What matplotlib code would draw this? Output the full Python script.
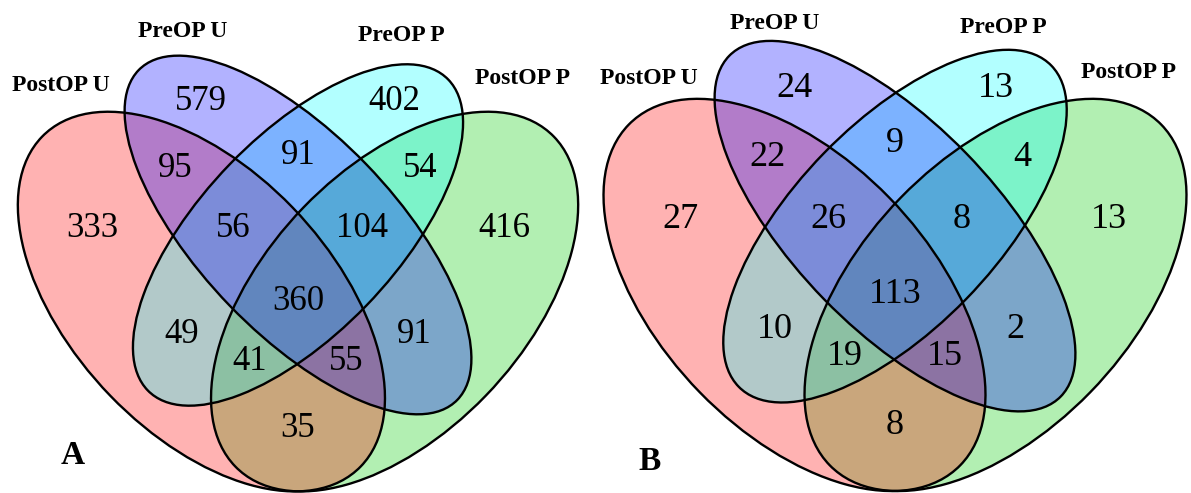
import matplotlib
matplotlib.use("Agg")
import matplotlib.pyplot as plt
from matplotlib.patches import Ellipse

plt.rcParams["font.family"] = ["Liberation Serif", "DejaVu Serif"]

# set names, in fill order (PostOP P first, PreOP U last)
SETS = ["PostOP P", "PostOP U", "PreOP P", "PreOP U"]
FILLS = ["#00CD00", "#FF0000", "#00FFFF", "#0000FF"]

# regions as (PostOP U, PreOP U, PreOP P, PostOP P) membership
REGIONS = [
    (0, 1, 0, 0), (0, 1, 1, 0), (0, 0, 1, 0), (1, 1, 0, 0), (1, 1, 1, 0),
    (1, 1, 1, 1), (0, 1, 1, 1), (0, 0, 1, 1), (1, 0, 0, 0), (1, 0, 1, 0),
    (1, 0, 1, 1), (1, 0, 0, 1), (1, 1, 0, 1), (0, 1, 0, 1), (0, 0, 0, 1),
]
counts_a = [579, 91, 402, 95, 56, 360, 104, 54, 333, 49, 41, 35, 55, 91, 416]
counts_b = [24, 9, 13, 22, 26, 113, 8, 4, 27, 10, 19, 8, 15, 2, 13]

# quad-venn layout in unit square: (x, y, a, b, angle) per set
ELLIPSES = {
    "PostOP P": (0.65, 0.47, 0.35, 0.20, 45),
    "PostOP U": (0.35, 0.47, 0.35, 0.20, 135),
    "PreOP P": (0.50, 0.57, 0.33, 0.15, 45),
    "PreOP U": (0.50, 0.57, 0.35, 0.15, 135),
}
LABEL_POS = [
    (0.35, 0.77), (0.50, 0.69), (0.65, 0.77), (0.31, 0.67), (0.40, 0.58),
    (0.50, 0.47), (0.60, 0.58), (0.69, 0.67), (0.18, 0.58), (0.32, 0.42),
    (0.425, 0.38), (0.50, 0.28), (0.575, 0.38), (0.68, 0.42), (0.82, 0.58),
]
CAT_POS = {
    "PostOP U": (0.132, 0.795), "PreOP U": (0.321, 0.876),
    "PreOP P": (0.661, 0.869), "PostOP P": (0.848, 0.805),
}

W, H = 1191, 493
fig = plt.figure(figsize=(W / 100, H / 100), dpi=100)


def venn(rect, counts, letter, letter_xy, cat_dy=0.0, num_size=25):
    ax = fig.add_axes(rect)
    ax.set_xlim(0, 1); ax.set_ylim(0, 1); ax.axis("off")
    for name, col in zip(SETS, FILLS):
        x, y, a, b, ang = ELLIPSES[name]
        ax.add_patch(Ellipse((x, y), 2 * a, 2 * b, angle=ang,
                             facecolor=col, alpha=0.3, edgecolor="none"))
    for name in SETS:
        x, y, a, b, ang = ELLIPSES[name]
        ax.add_patch(Ellipse((x, y), 2 * a, 2 * b, angle=ang,
                             facecolor="none", edgecolor="black", lw=1.7))
    for (lx, ly), n in zip(LABEL_POS, counts):
        ax.text(lx, ly, str(n), ha="center", va="center", fontsize=num_size)
    for name, (cx, cy) in CAT_POS.items():
        ax.text(cx, cy + cat_dy, name, ha="center", va="center", fontsize=17,
                fontweight="bold")
    fig.text(letter_xy[0] / W, 1 - letter_xy[1] / H, letter, ha="center",
             va="center", fontsize=24, fontweight="bold")


# panel A: unit square spans px x -24..620, y 615..-51 (from top)
venn([-24 / W, (H - 614.6) / H, 644 / W, 666 / H], counts_a, "A", (73, 456))
# panel B: slightly larger
venn([560 / W, (H - 618.3) / H, 670 / W, 688 / H], counts_b, "B", (650, 462),
     cat_dy=-0.011, num_size=26)

fig.savefig("out.png", dpi=100)
